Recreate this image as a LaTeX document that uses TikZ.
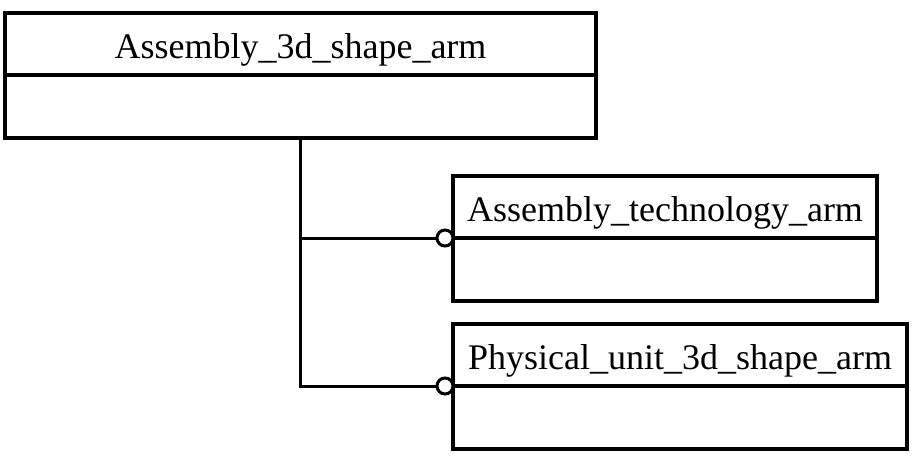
\documentclass[tikz,border=0pt]{standalone}
\usepackage{fontspec}
\setmainfont{Liberation Serif}
\usetikzlibrary{positioning}

\begin{document}
\begin{tikzpicture}[
    x=1pt, y=-1pt,
    node distance=0pt,
    head/.style={draw=black, line width=3.5pt, inner sep=0pt, outer sep=0pt,
        minimum height=62pt, text height=28pt, text depth=0pt,
        font=\fontsize{36}{40}\selectfont},
    body/.style={draw=black, line width=3.5pt, inner sep=0pt, outer sep=0pt,
        minimum height=63pt},
    port/.style={circle, draw=black, line width=3pt, fill=white,
        inner sep=0pt, outer sep=0pt, minimum size=16pt},
    link/.style={draw=black, line width=3pt}
]
\useasboundingbox (0,0) rectangle (913,461);
% classes
\node[head, minimum width=591pt, anchor=north west] (asm) at (5,13) {Assembly\_3d\_shape\_arm};
\node[body, minimum width=591pt, below=of asm] (asmBody) {};
\node[head, minimum width=424pt, anchor=north west] (tech) at (453,176) {Assembly\_technology\_arm};
\node[body, minimum width=424pt, below=of tech] (techBody) {};
\node[head, minimum width=454pt, anchor=north west] (phys) at (453,324) {Physical\_unit\_3d\_shape\_arm};
\node[body, minimum width=454pt, below=of phys] (physBody) {};
% connectors
\node[port, anchor=east] (techPort) at (tech.south west) {};
\node[port, anchor=east] (physPort) at (phys.south west) {};
\draw[link] (asmBody.south) |- (techPort.west);
\draw[link] (asmBody.south) |- (physPort.west);
\end{tikzpicture}
\end{document}
